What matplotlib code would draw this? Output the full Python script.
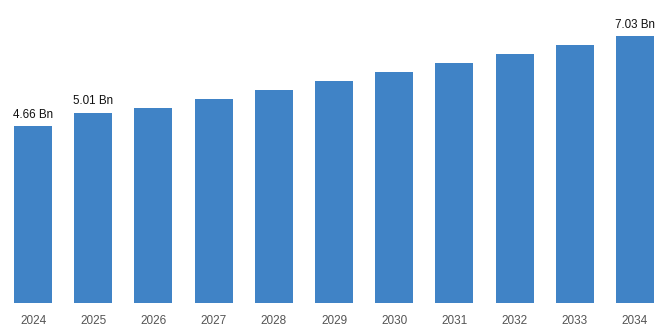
import matplotlib.pyplot as plt

years = ["2024", "2025", "2026", "2027", "2028", "2029",
         "2030", "2031", "2032", "2033", "2034"]
values = [4.66, 5.01, 5.13, 5.37, 5.61, 5.85, 6.08, 6.32, 6.56, 6.79, 7.03]
labelled = {0: "4.66 Bn", 1: "5.01 Bn", 10: "7.03 Bn"}

plt.rcParams['font.family'] = ['Liberation Sans', 'DejaVu Sans']

fig = plt.figure(figsize=(6.68, 3.34), dpi=100)
ax = fig.add_axes([3 / 668, 31 / 334, 662 / 668, 303 / 334])

x = range(len(years))
bars = ax.bar(x, values, width=0.63, color="#4083c6")

for i, text in labelled.items():
    ax.annotate(text, (i, values[i]), xytext=(0, 4), textcoords="offset points",
                ha="center", va="bottom", fontsize=8.4, color="#111111")

ax.set_xlim(-0.5, len(years) - 0.5)
ax.set_ylim(0, 7.98)
ax.set_xticks(list(x))
ax.set_xticklabels(years, fontsize=8.5, color="#555555")
ax.tick_params(axis="x", length=0, pad=9)
ax.set_yticks([])
for s in ax.spines.values():
    s.set_visible(False)

fig.savefig("out.png", dpi=100)
